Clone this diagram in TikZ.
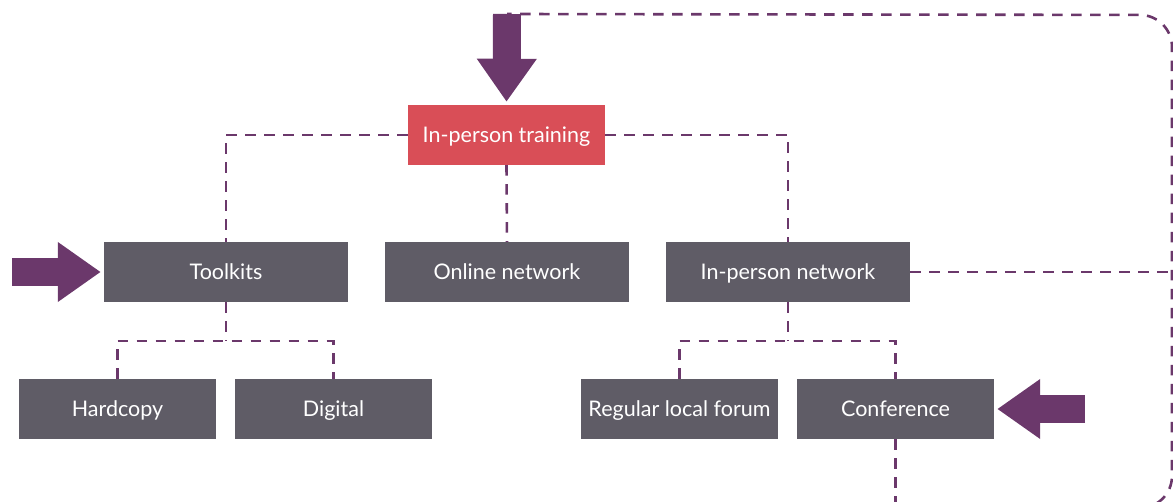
\documentclass[tikz,border=0pt]{standalone}
\usepackage{fontspec}
\setmainfont{Lato}
\usetikzlibrary{arrows.meta}
\definecolor{plum}{HTML}{6B386B}
\definecolor{slate}{HTML}{5F5C66}
\definecolor{coral}{HTML}{D94E57}
\tikzset{
  box/.style={fill=slate, text=white, minimum width=244pt, minimum height=60pt,
    inner sep=0pt, text height=15.5pt, text depth=0pt,
    font=\fontsize{21.5}{25}\selectfont},
  smallbox/.style={box, minimum width=197pt},
  link/.style={plum, line width=2.6pt, dash pattern=on 10.5pt off 8.5pt},
  bigarrow/.style={plum, line width=28pt, shorten >=3pt,
    -{Triangle[width=57pt,length=43pt]}},
}
\begin{document}
\begin{tikzpicture}[x=1pt,y=-1pt]
\useasboundingbox (0,0) rectangle (1173,502);
\clip (0,0) rectangle (1173,502);

% boxes
\node[smallbox, fill=coral] (train) at (506.5,135) {In-person training};
\node[box] (tool) at (226,272) {Toolkits};
\node[box] (online) at (507,272) {Online network};
\node[box] (network) at (788,272) {In-person network};
\node[smallbox] (hard) at (117.5,409) {Hardcopy};
\node[smallbox] (digital) at (333.5,409) {Digital};
\node[smallbox] (forum) at (679.5,409) {Regular local forum};
\node[smallbox] (conf) at (895.5,409) {Conference};

% split points and free ends
\coordinate (toolsplit) at (226,341);
\coordinate (netsplit) at (788,341);
\coordinate (netout) at (1180,272);
\coordinate (confout) at (895.5,520);
\coordinate (loopstart) at (1120,508);
\coordinate (loopright) at (1172,508);
\coordinate (looptop) at (1172,15);
\coordinate (feedin) at (507,14);
\coordinate (lefttail) at (12,272);
\coordinate (righttail) at (1085,409);

% dashed links
\draw[link] (train.west) -| (tool.north);
\draw[link] (train.south) -- (online.north);
\draw[link] (train.east) -| (network.north);
\draw[link] (tool.south) -- (toolsplit);
\draw[link] (hard.north) |- (toolsplit) -| (digital.north);
\draw[link] (network.south) -- (netsplit);
\draw[link] (forum.north) |- (netsplit) -| (conf.north);
\draw[link] (network.east) -- (netout);
\draw[link] (conf.south) -- (confout);
\draw[link, rounded corners=32pt] (loopstart) -- (loopright) -- (looptop) -- (feedin);

% entry arrows
\draw[bigarrow] (feedin) -- (train.north);
\draw[bigarrow] (lefttail) -- (tool.west);
\draw[bigarrow] (righttail) -- (conf.east);
\end{tikzpicture}
\end{document}
